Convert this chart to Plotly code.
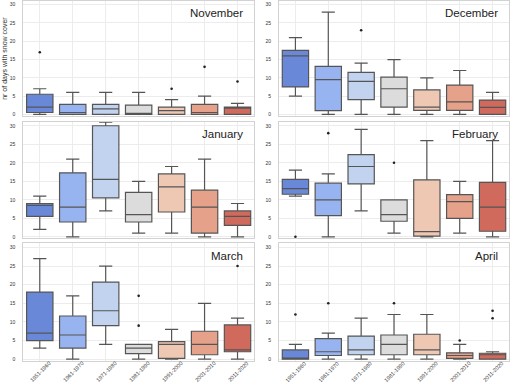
import plotly.graph_objects as go

decades = ["1951-1960", "1961-1970", "1971-1980", "1981-1990", "1991-2000", "2001-2010", "2011-2020"]
months = ["November", "December", "January", "February", "March", "April"]

# box statistics per month (rows follow `months`), one value per decade
lower = [
    [0, 0, 0, 0, 0, 0, 0],
    [5, 0, 0, 0, 0, 0, 0],
    [2, 0, 7, 1, 1, 0, 0],
    [11, 0, 7, 1, 0, 1, 0],
    [3, 0, 4, 0, 0, 0, 0],
    [0, 0, 0, 0, 0, 0, 0],
]
q1 = [
    [0.5, 0, 0, 0, 0, 0, 0],
    [7.5, 1, 4, 2, 1.1, 1.1, 0],
    [5.5, 4, 10.5, 4, 6.7, 1, 3.1],
    [11.5, 5.7, 14.3, 4.2, 0.2, 5, 1.5],
    [5, 3, 9, 1.5, 0.2, 1.2, 2],
    [0, 1, 1.2, 1.2, 1.2, 0.2, 0],
]
median = [
    [2, 0.5, 1.5, 0, 1, 0.5, 1.8],
    [16, 9.5, 9, 7, 2, 3.4, 1.9],
    [8.5, 8, 15.5, 6, 13.5, 8, 5.5],
    [13, 10, 19, 6, 1.4, 9.5, 8],
    [7, 6.5, 13, 3, 4, 4, 2.5],
    [0, 2, 2.5, 4, 2.5, 1, 1.2],
]
q3 = [
    [5.5, 2.75, 2.75, 2.5, 2, 2.75, 2],
    [17.5, 13.1, 11.5, 10.2, 6.7, 8, 3.9],
    [9, 17.3, 30, 12, 17, 12.6, 7],
    [15.5, 14.5, 22.2, 10, 15.4, 11.4, 14.7],
    [18, 11.6, 20.7, 4, 4.7, 7.5, 9.2],
    [2.5, 5.5, 6.2, 6.5, 6.7, 1.7, 1.6],
]
upper = [
    [7, 6, 6, 6, 4, 5, 3],
    [21, 28, 14, 15, 10, 12, 6],
    [11, 21, 31, 15, 19, 21, 9],
    [18, 17, 29, 10, 26, 15, 26],
    [27, 17, 25, 4, 8, 15, 11],
    [4, 7, 11, 12, 12, 4, 2],
]
# outliers: decade index list and value list per month
outlier_idx = [
    [0, 4, 5, 6],
    [2],
    [],
    [0, 1, 3],
    [3, 3, 6],
    [0, 1, 3, 5, 6, 6],
]
outlier_val = [
    [17, 7, 13, 9],
    [23],
    [],
    [0, 28, 20],
    [17, 9, 25],
    [12, 15, 15, 5, 13, 11],
]

colors = ["#6a88d8", "#98b4f0", "#c2d3ef", "#dcdcdc", "#efc8b4", "#e6a18a", "#d06a5c"]
line_col = "#555555"

W, H = 510, 382
xdom = [(23.3 / W, 254 / W), (279 / W, 509 / W)]
ypx = [(0.7, 115.8), (121.7, 238.3), (243.3, 360.7)]
ydom = [(1 - b / H, 1 - t / H) for (t, b) in ypx]

fig = go.Figure()
layout = dict(
    width=W, height=H,
    margin=dict(l=0, r=0, t=0, b=0, autoexpand=False),
    paper_bgcolor="white", plot_bgcolor="white",
    showlegend=False, boxmode="overlay",
    font=dict(family="Liberation Sans, Arial, sans-serif", color="#333"),
)
annotations = []
for m, month in enumerate(months):
    row, col = m // 2, m % 2
    k = m + 1
    xa = "x" if k == 1 else f"x{k}"
    ya = "y" if k == 1 else f"y{k}"
    for d, dec in enumerate(decades):
        fig.add_trace(go.Box(
            x=[dec], q1=[q1[m][d]], median=[median[m][d]], q3=[q3[m][d]],
            lowerfence=[lower[m][d]], upperfence=[upper[m][d]],
            fillcolor=colors[d], line=dict(color=line_col, width=1.2),
            width=0.8, whiskerwidth=0.5, boxpoints=False,
            xaxis=xa, yaxis=ya, hoverinfo="skip",
        ))
    if outlier_idx[m]:
        fig.add_trace(go.Scatter(
            x=[decades[i] for i in outlier_idx[m]], y=outlier_val[m],
            mode="markers", marker=dict(color="#222", size=2.6),
            xaxis=xa, yaxis=ya, hoverinfo="skip",
        ))
    xkey = "xaxis" if k == 1 else f"xaxis{k}"
    ykey = "yaxis" if k == 1 else f"yaxis{k}"
    layout[xkey] = dict(
        domain=list(xdom[col]), anchor=ya, type="category",
        categoryorder="array", categoryarray=decades, range=[-0.5, 6.5],
        showgrid=True, gridcolor="#ececec", gridwidth=0.8,
        showline=True, mirror=True, linecolor="#d2d2d2", linewidth=1,
        showticklabels=False, automargin=False, ticks="",
    )
    layout[ykey] = dict(
        domain=list(ydom[row]), anchor=xa, range=[-0.4, 31.1],
        tickvals=[0, 5, 10, 15, 20, 25, 30], automargin=False,
        showgrid=True, gridcolor="#ececec", gridwidth=0.8, zeroline=False,
        showline=True, mirror=True, linecolor="#d2d2d2", linewidth=1,
        tickfont=dict(size=5, color="#333"), ticks="", ticklabelstandoff=6,
    )
    annotations.append(dict(
        text=month, xref=f"{xa} domain", yref=f"{ya} domain",
        x=0.96, y=0.96, xanchor="right", yanchor="top", showarrow=False,
        font=dict(size=11.5, color="#222"),
    ))
    if row == 2:
        for dec in decades:
            annotations.append(dict(
                text=dec, xref=xa, yref="paper", x=dec, y=1 - 371.5 / H,
                xanchor="center", yanchor="middle", textangle=-45,
                showarrow=False, font=dict(size=5.5, color="#333"),
            ))
annotations.append(dict(
    text="nr of days with snow cover", xref="paper", yref="paper",
    x=4.8 / W, y=1 - 58 / H, textangle=-90, showarrow=False,
    xanchor="center", yanchor="middle",
    font=dict(size=7, color="#333"),
))
layout["annotations"] = annotations
fig.update_layout(**layout)
fig.write_html(
    "out.html",
    config={"displayModeBar": False},
    post_script="document.body.style.margin='0px';document.body.style.overflow='hidden';",
)
